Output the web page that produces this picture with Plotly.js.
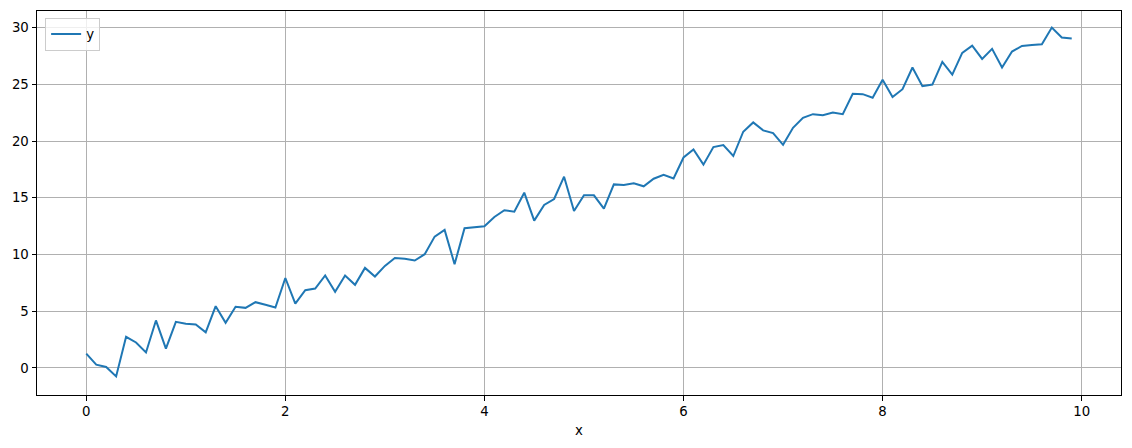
<!DOCTYPE html>
<html>
<head>
<meta charset="utf-8">
<script src="https://cdn.plot.ly/plotly-3.0.1.min.js"></script>
<style>html,body{margin:0;padding:0;background:#fff;}#chart{width:1132px;height:448px;}</style>
</head>
<body>
<div id="chart"></div>
<script>
const xValues = [0.0,0.1,0.2,0.3,0.4,0.5,0.6,0.7,0.8,0.9,
  1.0,1.1,1.2,1.3,1.4,1.5,1.6,1.7,1.8,1.9,
  2.0,2.1,2.2,2.3,2.4,2.5,2.6,2.7,2.8,2.9,
  3.0,3.1,3.2,3.3,3.4,3.5,3.6,3.7,3.8,3.9,
  4.0,4.1,4.2,4.3,4.4,4.5,4.6,4.7,4.8,4.9,
  5.0,5.1,5.2,5.3,5.4,5.5,5.6,5.7,5.8,5.9,
  6.0,6.1,6.2,6.3,6.4,6.5,6.6,6.7,6.8,6.9,
  7.0,7.1,7.2,7.3,7.4,7.5,7.6,7.7,7.8,7.9,
  8.0,8.1,8.2,8.3,8.4,8.5,8.6,8.7,8.8,8.9,
  9.0,9.1,9.2,9.3,9.4,9.5,9.6,9.7,9.8,9.9];
const yValues = [1.26,0.29,0.09,-0.74,2.75,2.25,1.37,4.19,1.70,4.07,
  3.90,3.84,3.14,5.45,3.98,5.39,5.30,5.80,5.57,5.33,
  7.93,5.68,6.86,7.00,8.15,6.71,8.15,7.33,8.82,8.06,
  9.00,9.70,9.62,9.47,10.03,11.58,12.17,9.15,12.31,12.43,
  12.49,13.31,13.90,13.78,15.45,12.99,14.37,14.89,16.86,13.84,
  15.22,15.22,14.04,16.18,16.13,16.27,16.01,16.68,17.03,16.71,
  18.55,19.26,17.92,19.47,19.64,18.68,20.82,21.64,20.94,20.70,
  19.67,21.17,22.05,22.37,22.28,22.52,22.37,24.16,24.13,23.81,
  25.40,23.88,24.57,26.48,24.84,24.98,26.97,25.86,27.77,28.41,
  27.24,28.12,26.48,27.89,28.38,28.47,28.53,30.00,29.12,29.03];
const seriesName = "y";
const xTickVals = [0,2,4,6,8,10];
const yTickVals = [0,5,10,15,20,25,30];
const xTitle = "x";

const font = {family: "DejaVu Sans, sans-serif", size: 13.3, color: "#000"};

const trace = {
  x: xValues, y: yValues, type: "scatter", mode: "lines", name: seriesName,
  line: {color: "#1f77b4", width: 2}
};

const axisCommon = {
  showline: true, linecolor: "#000", linewidth: 1, mirror: true,
  ticks: "outside", ticklen: 4.5, tickwidth: 1, tickcolor: "#000",
  showgrid: true, gridcolor: "#b0b0b0", gridwidth: 1,
  zeroline: false, tickfont: font
};

const layout = {
  width: 1132, height: 448,
  margin: {l: 37, r: 11, t: 11, b: 53},
  paper_bgcolor: "#fff", plot_bgcolor: "#fff",
  font: font,
  showlegend: true,
  legend: {x: 0.0075, y: 0.982, xanchor: "left", yanchor: "top",
    itemwidth: 30,
    bgcolor: "rgba(255,255,255,0.8)", bordercolor: "#cccccc", borderwidth: 1,
    font: {family: "DejaVu Sans, sans-serif", size: 13.3, color: "#000"}},
  xaxis: Object.assign({}, axisCommon, {
    range: [-0.495, 10.395], tickvals: xTickVals, ticktext: xTickVals.map(String),
    title: {text: xTitle, font: font, standoff: 7}
  }),
  yaxis: Object.assign({}, axisCommon, {
    range: [-2.38, 31.46], tickvals: yTickVals, ticktext: yTickVals.map(String)
  })
};

Plotly.newPlot("chart", [trace], layout, {displayModeBar: false, staticPlot: true});
</script>
</body>
</html>
